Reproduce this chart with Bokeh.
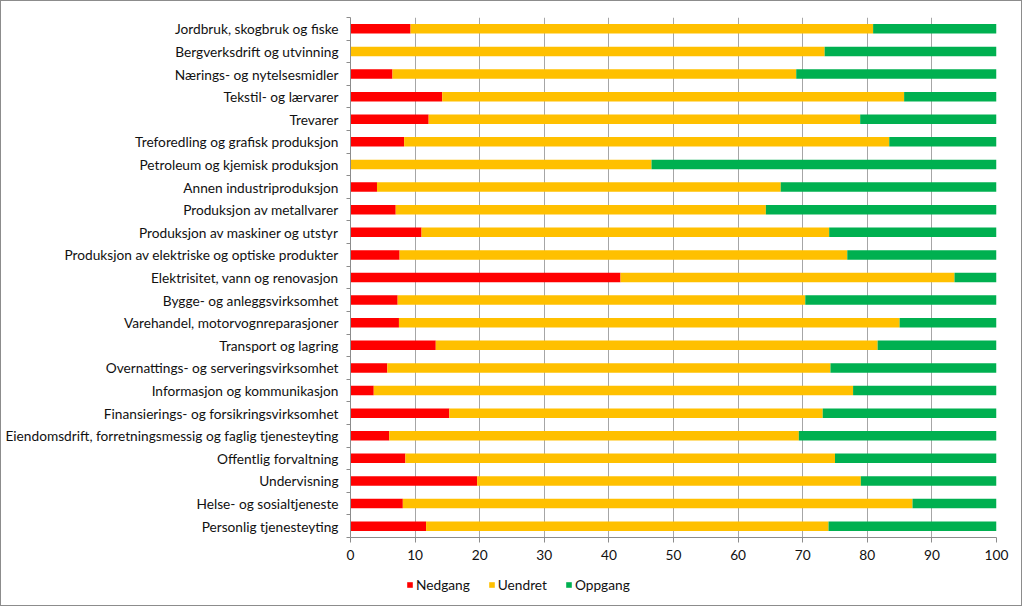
from bokeh.plotting import figure
from bokeh.layouts import column
from bokeh.models import (Range1d, FixedTicker, ColumnDataSource, Legend, LegendItem)
from bokeh.embed import file_html
from bokeh.resources import INLINE

categories = [
    "Jordbruk, skogbruk og fiske",
    "Bergverksdrift og utvinning",
    "Nærings- og nytelsesmidler",
    "Tekstil- og lærvarer",
    "Trevarer",
    "Treforedling og grafisk produksjon",
    "Petroleum og kjemisk produksjon",
    "Annen industriproduksjon",
    "Produksjon av metallvarer",
    "Produksjon av maskiner og utstyr",
    "Produksjon av elektriske og optiske produkter",
    "Elektrisitet, vann og renovasjon",
    "Bygge- og anleggsvirksomhet",
    "Varehandel, motorvognreparasjoner",
    "Transport og lagring",
    "Overnattings- og serveringsvirksomhet",
    "Informasjon og kommunikasjon",
    "Finansierings- og forsikringsvirksomhet",
    "Eiendomsdrift, forretningsmessig og faglig tjenesteyting",
    "Offentlig forvaltning",
    "Undervisning",
    "Helse- og sosialtjeneste",
    "Personlig tjenesteyting",
]
nedgang = [9.3, 0.0, 6.5, 14.2, 12.1, 8.3, 0.0, 4.1, 7.0, 11.0, 7.6, 41.8,
           7.3, 7.5, 13.2, 5.7, 3.6, 15.3, 6.0, 8.5, 19.6, 8.1, 11.7]
uendret = [71.6, 73.4, 62.5, 71.5, 66.8, 75.1, 46.6, 62.5, 57.3, 63.1, 69.3, 51.7,
           63.1, 77.5, 68.4, 68.6, 74.2, 57.8, 63.4, 66.5, 59.4, 78.9, 62.3]
oppgang = [19.1, 26.6, 31.0, 14.3, 21.1, 16.6, 53.4, 33.4, 35.7, 25.9, 23.1, 6.5,
           29.6, 15.0, 18.4, 25.7, 22.2, 26.9, 30.6, 25.0, 21.0, 13.0, 26.0]
series = ["Nedgang", "Uendret", "Oppgang"]
colors = ["#FF0000", "#FFC000", "#00B050"]
x_ticks = list(range(0, 101, 10))

n = len(categories)
ypos = list(range(n))
source = ColumnDataSource(dict(y=ypos, Nedgang=nedgang, Uendret=uendret, Oppgang=oppgang))

FONT = "Lato"
FSIZE = "13.7px"
TXT = "#111111"
AXC = "#8c8c8c"

p = figure(width=1020, height=574, output_backend="svg", toolbar_location=None,
           x_range=Range1d(0, 100), y_range=Range1d(n - 0.5, -0.5),
           min_border_left=349, min_border_right=25, min_border_top=16, min_border_bottom=38)
p.outline_line_color = None

p.hbar_stack(series, y="y", height=0.42, color=colors, source=source, line_width=0)

# x axis
p.xaxis.ticker = FixedTicker(ticks=x_ticks)
p.xaxis.axis_line_color = AXC
p.xaxis.major_tick_line_color = AXC
p.xaxis.major_tick_out = 5
p.xaxis.major_tick_in = 0
p.xaxis.minor_tick_line_color = None
p.xaxis.major_label_text_font = FONT
p.xaxis.major_label_text_font_size = FSIZE
p.xaxis.major_label_text_color = TXT
p.xaxis.major_label_standoff = 7

# y axis
p.yaxis.ticker = FixedTicker(ticks=ypos, minor_ticks=[i - 0.5 for i in range(n + 1)])
p.yaxis.major_label_overrides = {i: c for i, c in enumerate(categories)}
p.yaxis.axis_line_color = AXC
p.yaxis.major_tick_line_color = None
p.yaxis.major_tick_out = 0
p.yaxis.major_tick_in = 0
p.yaxis.minor_tick_line_color = AXC
p.yaxis.minor_tick_out = 4
p.yaxis.minor_tick_in = 0
p.yaxis.major_label_text_font = FONT
p.yaxis.major_label_text_font_size = FSIZE
p.yaxis.major_label_text_color = TXT
p.yaxis.major_label_standoff = 8

p.xgrid.grid_line_color = "#a6a6a6"
p.xgrid.ticker = FixedTicker(ticks=x_ticks)
p.ygrid.grid_line_color = None

# legend strip (frame aligned with the main plot's frame by the column layout);
# it holds the same stacked series, scrolled out of its view, so that the legend has glyphs
p2 = figure(width=1020, height=30, output_backend="svg", toolbar_location=None,
            x_range=Range1d(0, 100), y_range=Range1d(1000, 1001),
            min_border=0, min_border_left=0, min_border_right=0,
            min_border_top=0, min_border_bottom=0)
p2.axis.visible = False
p2.grid.visible = False
p2.outline_line_color = None
leg_renderers = p2.hbar_stack(series, y="y", height=0.42, color=colors, source=source, line_width=0)
legend = Legend(items=[LegendItem(label=s, renderers=[r]) for s, r in zip(series, leg_renderers)],
                orientation="horizontal", location=(56, 12),
                label_text_font=FONT, label_text_font_size=FSIZE, label_text_color=TXT,
                glyph_width=7, glyph_height=7, label_standoff=3, spacing=18,
                padding=0, margin=0, border_line_color=None, background_fill_alpha=0)
p2.add_layout(legend)

layout = column(p, p2, spacing=0)
layout.styles = {"border": "1px solid #8c8c8c"}

open("out.html", "w").write(file_html(layout, INLINE))
